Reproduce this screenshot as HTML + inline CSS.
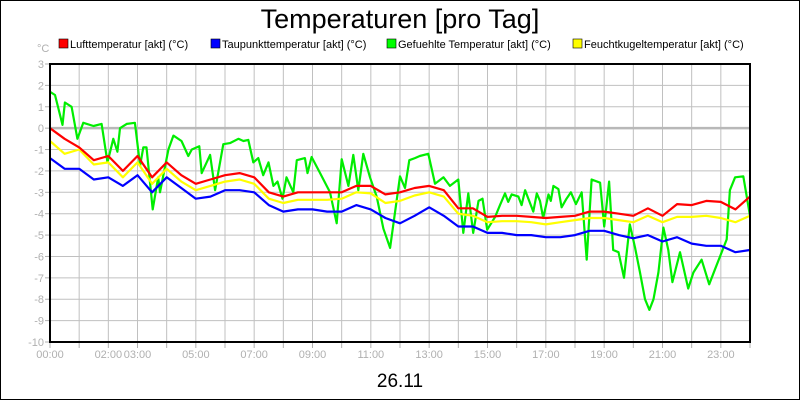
<!DOCTYPE html>
<html><head><meta charset="utf-8"><style>
body{margin:0;background:#fff;}
svg{display:block;font-family:"Liberation Sans",sans-serif;}
</style></head><body>
<svg id="chart" width="800" height="400" viewBox="0 0 800 400">
<rect x="0.5" y="0.5" width="799" height="399" fill="#fff" stroke="#000"/>
<text x="400" y="28" text-anchor="middle" font-size="27">Temperaturen [pro Tag]</text>
<text x="37" y="52" font-size="11" fill="#b0b0b0">°C</text>
<g font-size="11">
<g><rect x="59" y="39" width="9" height="9" fill="#f00" stroke="#000" stroke-width="0.6"/><text x="70" y="48">Lufttemperatur [akt] (°C)</text></g>
<g><rect x="211" y="39" width="9" height="9" fill="#00f" stroke="#000" stroke-width="0.6"/><text x="222" y="48">Taupunkttemperatur [akt] (°C)</text></g>
<g><rect x="387" y="39" width="9" height="9" fill="#0f0" stroke="#000" stroke-width="0.6"/><text x="398" y="48">Gefuehlte Temperatur [akt] (°C)</text></g>
<g><rect x="573" y="39" width="9" height="9" fill="#ff0" stroke="#000" stroke-width="0.6"/><text x="584" y="48">Feuchtkugeltemperatur [akt] (°C)</text></g>
</g>
<g id="grid"></g>
<g id="axes"></g>
<g id="series"></g>
<rect x="50" y="64" width="700" height="278" fill="none" stroke="#000" stroke-width="2"/>
<text x="400" y="387" text-anchor="middle" font-size="19">26.11</text>
</svg>
<script>
const yTicks=[3,2,1,0,-1,-2,-3,-4,-5,-6,-7,-8,-9,-10];
const xLabelHours=[0,2,3,5,7,9,11,13,15,17,19,21,23];
const halfHours=[0,0.5,1,1.5,2,2.5,3,3.5,4,4.5,5,5.5,6,6.5,7,7.5,8,8.5,9,9.5,10,10.5,11,11.5,12,12.5,13,13.5,14,14.5,15,15.5,16,16.5,17,17.5,18,18.5,19,19.5,20,20.5,21,21.5,22,22.5,23,23.5,24];
const airTemp=[0,-0.5,-0.9,-1.5,-1.3,-2.0,-1.3,-2.3,-1.6,-2.2,-2.6,-2.4,-2.2,-2.1,-2.3,-3.0,-3.2,-3.0,-3.0,-3.0,-3.0,-2.7,-2.7,-3.1,-3.0,-2.8,-2.7,-2.9,-3.75,-3.75,-4.15,-4.1,-4.1,-4.15,-4.2,-4.15,-4.1,-3.9,-3.9,-4.0,-4.1,-3.75,-4.1,-3.55,-3.6,-3.4,-3.45,-3.8,-3.2];
const dewPoint=[-1.4,-1.9,-1.9,-2.4,-2.3,-2.7,-2.2,-3.0,-2.3,-2.8,-3.3,-3.2,-2.9,-2.9,-3.0,-3.6,-3.9,-3.8,-3.8,-3.9,-3.9,-3.6,-3.8,-4.2,-4.45,-4.1,-3.7,-4.1,-4.6,-4.6,-4.9,-4.9,-5.0,-5.0,-5.1,-5.1,-5.0,-4.8,-4.8,-5.0,-5.15,-5.0,-5.3,-5.1,-5.4,-5.5,-5.5,-5.8,-5.7];
const wetBulb=[-0.6,-1.2,-1.0,-1.7,-1.6,-2.3,-1.6,-2.6,-1.9,-2.5,-2.9,-2.7,-2.5,-2.4,-2.6,-3.3,-3.5,-3.35,-3.35,-3.35,-3.3,-3.0,-3.05,-3.5,-3.4,-3.15,-3.0,-3.2,-4.0,-4.1,-4.4,-4.35,-4.35,-4.4,-4.5,-4.4,-4.3,-4.2,-4.2,-4.3,-4.4,-4.1,-4.4,-4.15,-4.15,-4.1,-4.2,-4.4,-4.1];
const feltHours=[0,0.17,0.29,0.43,0.51,0.74,0.94,1.14,1.49,1.77,1.97,2.17,2.31,2.4,2.63,2.91,3.09,3.2,3.31,3.52,3.71,3.77,4.06,4.23,4.51,4.74,4.86,5.12,5.2,5.49,5.66,5.94,6.17,6.46,6.63,6.8,6.97,7.14,7.31,7.49,7.66,7.8,7.97,8.11,8.34,8.46,8.74,8.83,8.97,9.26,9.6,9.83,10.0,10.23,10.4,10.57,10.74,10.97,11.2,11.43,11.66,12.0,12.17,12.32,12.51,12.68,12.97,13.2,13.49,13.71,14.0,14.17,14.34,14.51,14.69,14.83,14.99,15.26,15.43,15.6,15.71,15.83,16.06,16.17,16.29,16.57,16.69,16.8,16.91,17.09,17.17,17.26,17.43,17.54,17.71,17.86,18.03,18.23,18.4,18.57,18.86,19.0,19.17,19.31,19.49,19.68,19.88,20.06,20.23,20.4,20.55,20.69,20.86,21.03,21.2,21.34,21.6,21.88,22.06,22.34,22.6,22.8,23.03,23.2,23.31,23.49,23.77,24];
const feltTemp=[1.7,1.55,0.9,0.15,1.2,1.0,-0.5,0.25,0.1,0.2,-1.6,-0.5,-1.1,0.0,0.2,0.25,-1.75,-0.9,-0.9,-3.8,-2.3,-3.0,-1.0,-0.35,-0.6,-1.3,-1.0,-0.85,-2.1,-1.25,-2.9,-0.75,-0.7,-0.5,-0.6,-0.55,-1.6,-1.4,-2.2,-1.6,-2.7,-2.5,-3.3,-2.3,-3.0,-1.5,-1.4,-2.1,-1.35,-2.1,-3.0,-4.45,-1.45,-2.7,-1.25,-2.9,-1.2,-2.3,-3.2,-4.7,-5.6,-2.25,-2.8,-1.5,-1.4,-1.3,-1.2,-2.6,-2.3,-2.7,-2.4,-4.9,-3.05,-4.9,-3.4,-3.3,-4.75,-4.15,-3.6,-3.05,-3.45,-3.1,-3.2,-3.6,-2.9,-3.9,-3.05,-3.4,-4.2,-3.1,-3.4,-2.7,-2.85,-3.7,-3.3,-3.0,-3.55,-3.0,-6.15,-2.4,-2.55,-4.6,-2.5,-5.7,-5.8,-7.0,-4.5,-5.6,-6.75,-8.0,-8.5,-8.0,-6.75,-4.65,-5.7,-7.2,-5.8,-7.5,-6.75,-6.15,-7.3,-6.6,-5.8,-5.2,-2.9,-2.3,-2.25,-4.1];

const NS='http://www.w3.org/2000/svg';
const X0=50,X1=750,Y0=64,Y1=342,VMAX=3,VMIN=-10;
function xs(h){return X0+h/24*(X1-X0);}
function ys(v){return Y0+(VMAX-v)/(VMAX-VMIN)*(Y1-Y0);}
function mk(tag,attrs,parent){const e=document.createElementNS(NS,tag);for(const k in attrs)e.setAttribute(k,attrs[k]);parent.appendChild(e);return e;}
const grid=document.getElementById('grid'),axes=document.getElementById('axes'),series=document.getElementById('series');
for(let h=1;h<24;h++){
  const l=mk('line',{x1:xs(h),x2:xs(h),y1:Y0,y2:Y1,stroke:'#c0c0c0','stroke-width':1},grid);
  
  
}
for(let h=0;h<=24;h++){
  const t=mk('line',{x1:xs(h),x2:xs(h),y1:Y1,y2:Y1+6,stroke:'#b0b0b0','stroke-width':1},axes);
  
  
}
yTicks.forEach(v=>{
  if(v!==VMAX&&v!==VMIN){
    const g=mk('line',{x1:X0,x2:X1,y1:ys(v),y2:ys(v),stroke:v===0?'#b8b8b8':'#c0c0c0','stroke-width':v===0?2.5:1},grid);
    
    
  }
  const t=mk('line',{x1:X0-5,x2:X0,y1:ys(v),y2:ys(v),stroke:'#b0b0b0'},axes);
  
  
  const tx=mk('text',{x:X0-6,y:ys(v)+4,'text-anchor':'end','font-size':11,fill:'#b0b0b0'},axes);
  tx.textContent=String(v);
  
  
});
xLabelHours.forEach(h=>{
  const tx=mk('text',{x:xs(h),y:358,'text-anchor':'middle','font-size':11,fill:'#b0b0b0'},axes);
  tx.textContent=(h<10?'0':'')+h+':00';
  
  
});
function line(hours,vals,color,name){
  const d=vals.map((v,i)=>(i?'L':'M')+xs(hours[i]).toFixed(1)+','+ys(v).toFixed(1)).join('');
  const p=mk('path',{d:d,fill:'none',stroke:color,'stroke-width':2.2,'stroke-linejoin':'round'},series);
  
  
}
line(feltHours,feltTemp,'#00ee00','felt-temperature-line');
line(halfHours,wetBulb,'#ffff00','wet-bulb-line');
line(halfHours,dewPoint,'#0000ff','dew-point-line');
line(halfHours,airTemp,'#ff0000','air-temperature-line');
</script>
</body></html>
